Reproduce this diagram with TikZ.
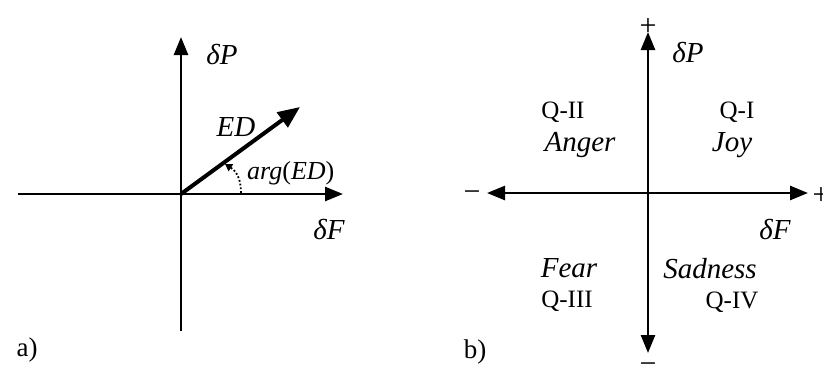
\documentclass[tikz,border=0pt]{standalone}
\usepackage{fontspec}
\setmainfont{Liberation Serif}
\usetikzlibrary{arrows.meta}
\begin{document}
\begin{tikzpicture}[x=1pt,y=-1pt,
  axis/.style={line width=2.6pt,-{Triangle[length=18pt,width=14pt]}},
  dblaxis/.style={line width=2.6pt,{Triangle[length=18pt,width=14pt]}-{Triangle[length=18pt,width=14pt]}},
  lbl/.style={inner sep=0pt,font=\fontsize{25}{28}\selectfont},
  ilbl/.style={inner sep=0pt,font=\fontsize{29}{32}\selectfont\itshape},
  plbl/.style={inner sep=0pt,font=\fontsize{27}{30}\selectfont},
  sgn/.style={inner sep=0pt,font=\fontsize{30}{32}\selectfont}]
\useasboundingbox (0,0) rectangle (823,365);
% panel a
\coordinate (aO) at (181,194);
\coordinate (aL) at (18,194);
\coordinate (aR) at (343,194);
\coordinate (aT) at (181,37);
\coordinate (aB) at (181,331);
\coordinate (aE) at (300,107);
\draw[line width=2.6pt] (aO) -- (aB);
\draw[axis] (aO) -- (aT);
\draw[line width=2.6pt] (aL) -- (aO);
\draw[axis] (aO) -- (aR);
\draw[line width=4pt,-{Triangle[length=22pt,width=18pt]}] (aO) -- (aE);
\coordinate (arcS) at (241,193);
\coordinate (arcE) at (225,164);
\draw[line width=1.8pt,dotted,-{Triangle[length=7pt,width=8pt]}] (arcS) .. controls (241,178) and (236,171) .. (arcE);
\node[ilbl] (dPa) at (222,55) {δP};
\node[ilbl] (dFa) at (329,230) {δF};
\node[ilbl] (ED) at (236,127) {ED};
\node[inner sep=0pt,anchor=west,font=\fontsize{26}{28}\selectfont] (arg) at (247,173) {\itshape arg\/\upshape(\itshape ED\/\upshape)};
\node[plbl] (la) at (27,350) {a)};
% panel b
\coordinate (bO) at (648,193);
\coordinate (bL) at (487,193);
\coordinate (bR) at (808,193);
\coordinate (bT) at (648,32);
\coordinate (bB) at (648,353);
\draw[dblaxis] (bL) -- (bR);
\draw[dblaxis] (bB) -- (bT);
\node[sgn] (pT) at (648,27) {+};
\node[sgn] (mB) at (648,368) {−};
\node[sgn] (mL) at (472,196) {−};
\node[sgn] (pR) at (821,196) {+};
\node[ilbl] (dPb) at (688,53) {δP};
\node[ilbl] (dFb) at (775,230) {δF};
\node[lbl] (q2) at (563,112) {Q-II};
\node[ilbl] (anger) at (580,145) {Anger};
\node[lbl] (q1) at (737,112) {Q-I};
\node[ilbl] (joy) at (732,145) {Joy};
\node[ilbl] (fear) at (569,268) {Fear};
\node[lbl] (q3) at (567,301) {Q-III};
\node[ilbl] (sad) at (710,269) {Sadness};
\node[lbl] (q4) at (732,302) {Q-IV};
\node[plbl] (lb) at (475,352) {b)};
\end{tikzpicture}
\end{document}
